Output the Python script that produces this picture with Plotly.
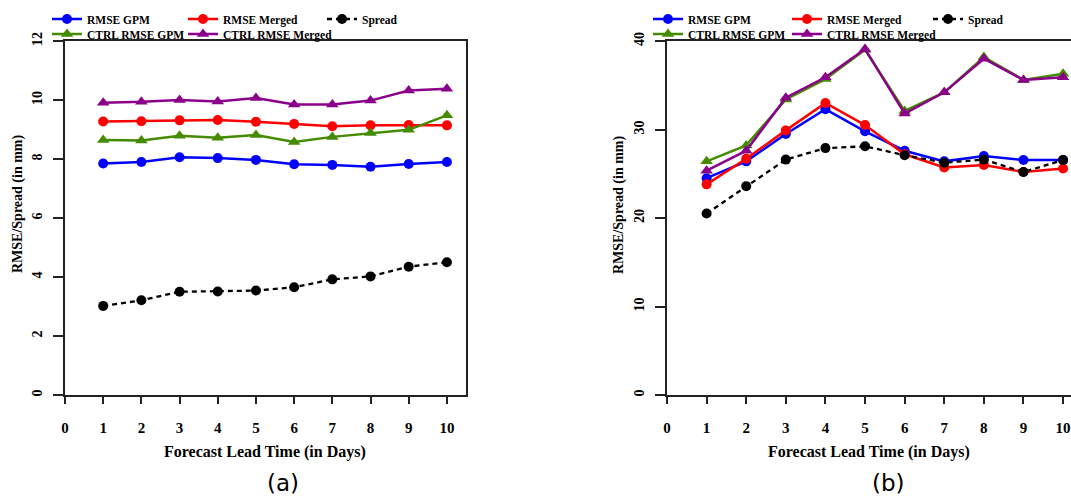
import plotly.graph_objects as go

# Forecast lead time (days)
days = [1, 2, 3, 4, 5, 6, 7, 8, 9, 10]

# Panel (a)
a_rmse_gpm = [7.85, 7.90, 8.06, 8.03, 7.97, 7.82, 7.80, 7.74, 7.83, 7.90]
a_rmse_merged = [9.27, 9.28, 9.31, 9.32, 9.26, 9.19, 9.11, 9.14, 9.15, 9.14]
a_spread = [3.02, 3.21, 3.50, 3.51, 3.54, 3.65, 3.92, 4.02, 4.35, 4.50]
a_ctrl_gpm = [8.64, 8.63, 8.79, 8.72, 8.81, 8.58, 8.75, 8.88, 8.99, 9.48]
a_ctrl_merged = [9.91, 9.94, 10.00, 9.95, 10.07, 9.85, 9.85, 9.98, 10.32, 10.38]

# Panel (b)
b_rmse_gpm = [24.5, 26.4, 29.5, 32.3, 29.8, 27.6, 26.4, 27.0, 26.55, 26.55]
b_rmse_merged = [23.8, 26.7, 29.9, 33.0, 30.5, 27.2, 25.7, 26.0, 25.2, 25.6]
b_spread = [20.5, 23.6, 26.6, 27.9, 28.1, 27.1, 26.25, 26.6, 25.2, 26.55]
b_ctrl_gpm = [26.4, 28.2, 33.4, 35.7, 39.0, 32.1, 34.2, 38.2, 35.6, 36.3]
b_ctrl_merged = [25.35, 27.6, 33.6, 35.9, 39.1, 31.8, 34.2, 38.0, 35.6, 35.9]

x_ticks = list(range(0, 11))
a_y_ticks = [0, 2, 4, 6, 8, 10, 12]
b_y_ticks = [0, 10, 20, 30, 40]

W, H = 1071, 496
SERIF = "Liberation Serif"
AXIS_COLOR = "#222222"

BLUE = "#0000FF"
RED = "#FF0000"
GREEN = "#458B00"
PURPLE = "#8B008B"


def px_x(p):
    return p / W


def px_y(p):
    return 1 - p / H


# name, colour, symbol, marker size, dash, legend column, legend row centre y (px)
series_style = [
    ("RMSE GPM", BLUE, "circle", 10, "solid", 0, 19),
    ("RMSE Merged", RED, "circle", 10, "solid", 1, 19),
    ("Spread", "black", "circle", 10, "5px,4px", 2, 19),
    ("CTRL RMSE GPM", GREEN, "triangle-up", 11, "solid", 0, 34),
    ("CTRL RMSE Merged", PURPLE, "triangle-up", 11, "solid", 1, 34),
]

# legend text start per column, one set per panel
legend_cols = [
    [87, 223, 362],
    [688, 827, 968],
]

fig = go.Figure()

panels = [
    ("x", "y", [a_rmse_gpm, a_rmse_merged, a_spread, a_ctrl_gpm, a_ctrl_merged]),
    ("x2", "y2", [b_rmse_gpm, b_rmse_merged, b_spread, b_ctrl_gpm, b_ctrl_merged]),
]

legend_font = dict(family=SERIF, size=11.5, color="black", weight="bold")
legend_layouts = {}
leg_idx = 0

for p, (xa, ya, values) in enumerate(panels):
    for (name, color, symbol, size, dash, col, row_y), vals in zip(series_style, values):
        leg_idx += 1
        leg_name = "legend" if leg_idx == 1 else f"legend{leg_idx}"
        legend_layouts[leg_name] = dict(
            x=px_x(legend_cols[p][col] - 40), y=px_y(row_y),
            xanchor="left", yanchor="middle",
            font=legend_font, bgcolor="rgba(0,0,0,0)", borderwidth=0,
            orientation="h",
        )
        fig.add_trace(go.Scatter(
            x=days, y=vals, name=name, mode="lines+markers",
            xaxis=xa, yaxis=ya,
            line=dict(color=color, width=2.5 if dash == "solid" else 2.3, dash=dash),
            marker=dict(color=color, symbol=symbol, size=size),
            legend=leg_name,
        ))

tick_font_x = dict(family=SERIF, size=15, color="black", weight="bold")
tick_font_y = dict(family=SERIF, size=14, color="black", weight="bold")

common_x = dict(
    tickmode="array", tickvals=x_ticks, ticktext=[str(t) for t in x_ticks],
    ticks="outside", ticklen=7, tickwidth=1.5, tickcolor=AXIS_COLOR,
    showline=True, linecolor=AXIS_COLOR, linewidth=1.5,
    showgrid=False, zeroline=False, tickfont=tick_font_x,
    ticklabelstandoff=11, fixedrange=True,
)
common_y = dict(
    ticks="outside", ticklen=10, tickwidth=1.5, tickcolor=AXIS_COLOR,
    showline=True, linecolor=AXIS_COLOR, linewidth=1.5,
    showgrid=False, zeroline=False, tickfont=tick_font_y,
    tickangle=-90, ticklabelstandoff=6, fixedrange=True,
)

y_dom = [px_y(395), px_y(41)]

fig.update_layout(
    width=W, height=H,
    margin=dict(l=0, r=0, t=0, b=0, autoexpand=False),
    paper_bgcolor="white", plot_bgcolor="white",
    showlegend=True,
    xaxis=dict(common_x, domain=[px_x(65), px_x(466)], range=[0, 10.5], anchor="y", mirror=True),
    yaxis=dict(common_y, domain=y_dom, range=[0, 12], tickvals=a_y_ticks, anchor="x", mirror=True),
    xaxis2=dict(common_x, domain=[px_x(667), 1.0], range=[0, 10.2], anchor="y2", mirror=True),
    yaxis2=dict(common_y, domain=y_dom, range=[0, 40], tickvals=b_y_ticks, anchor="x2", mirror=False),
    **legend_layouts,
)

title_font = dict(family=SERIF, size=16, color="black", weight="bold")
ytitle_font = dict(family=SERIF, size=14, color="black", weight="bold")
panel_font = dict(family="DejaVu Sans", size=23, color="black")

annotations = [
    dict(text="Forecast Lead Time (in Days)", x=px_x(265), y=px_y(452), font=title_font),
    dict(text="Forecast Lead Time (in Days)", x=px_x(869), y=px_y(452), font=title_font),
    dict(text="RMSE/Spread (in mm)", x=px_x(18), y=px_y(204), textangle=-90, font=ytitle_font),
    dict(text="RMSE/Spread (in mm)", x=px_x(619), y=px_y(204), textangle=-90, font=ytitle_font),
    dict(text="(a)", x=px_x(283), y=px_y(483), font=panel_font),
    dict(text="(b)", x=px_x(888), y=px_y(483), font=panel_font),
]
for ann in annotations:
    ann.update(xref="paper", yref="paper", showarrow=False, xanchor="center", yanchor="middle")
fig.update_layout(annotations=annotations)

fig.write_html("out.html", config={"displayModeBar": False})
